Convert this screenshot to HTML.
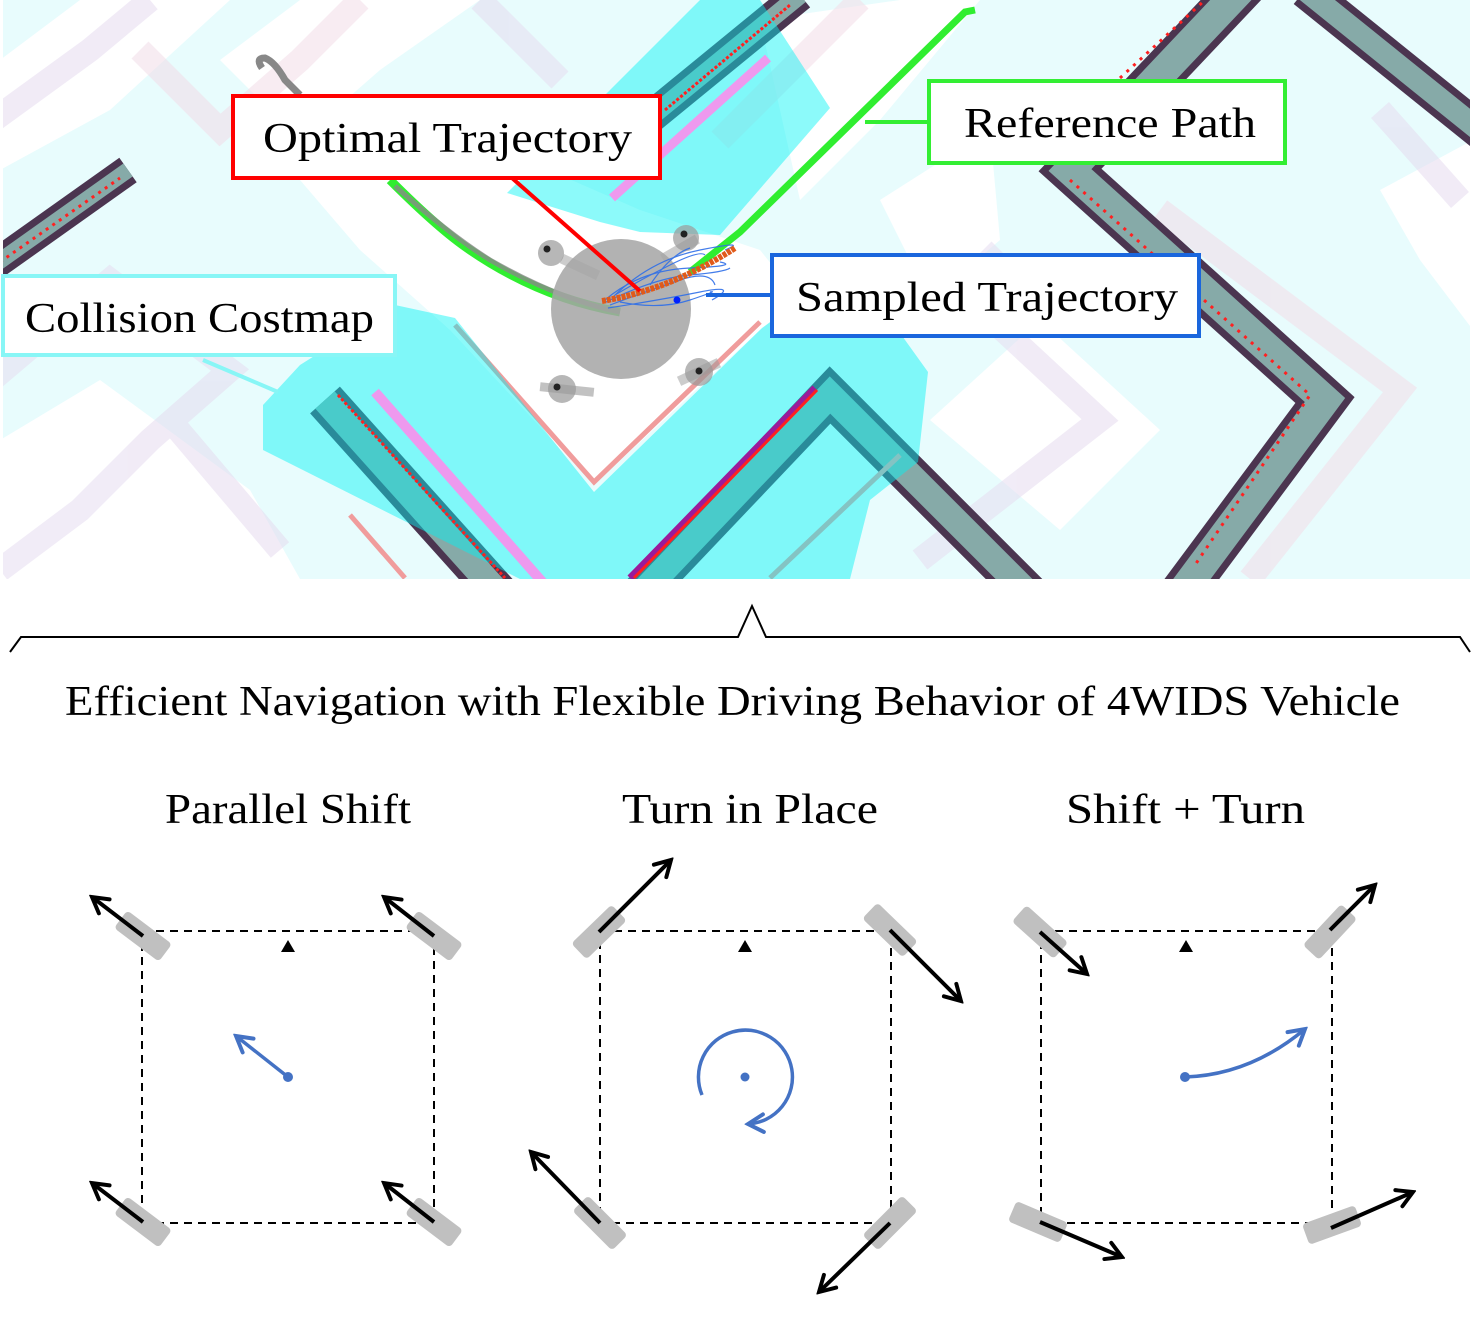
<!DOCTYPE html>
<html><head><meta charset="utf-8"><style>
html,body{margin:0;padding:0;background:#fff;}
svg{display:block;}
text{font-family:"Liberation Serif","DejaVu Serif",serif;fill:#000;}
</style></head><body>
<svg width="1473" height="1328" viewBox="0 0 1473 1328" xmlns="http://www.w3.org/2000/svg">
<defs>
<marker id="ak" viewBox="0 0 20 20" refX="17" refY="10" markerWidth="22" markerHeight="22" markerUnits="userSpaceOnUse" orient="auto"><path d="M3,2 L17,10 L3,18" fill="none" stroke="#000" stroke-width="3.6" stroke-linecap="round" stroke-linejoin="miter"/></marker>
<marker id="ab" viewBox="0 0 20 20" refX="17" refY="10" markerWidth="22" markerHeight="22" markerUnits="userSpaceOnUse" orient="auto"><path d="M3,2 L17,10 L3,18" fill="none" stroke="#4472c4" stroke-width="3.6" stroke-linecap="round"/></marker>
<clipPath id="mapclip"><rect x="3" y="0" width="1467" height="579"/></clipPath>
</defs>

<!-- MAP -->
<g clip-path="url(#mapclip)">
<rect x="0" y="0" width="1473" height="579" fill="#e8fcfd"/>
<!-- white regions -->
<polygon points="0,440 100,380 250,490 300,579 0,579" fill="#fff"/>
<polygon points="40,540 0,500 0,579 60,579" fill="#fff"/>
<polygon points="320,110 480,140 640,210 760,250 800,300 760,330 594,485 450,330 360,250 300,180" fill="#fff"/>
<polygon points="0,60 80,0 230,0 110,110 0,170" fill="#fff"/>
<polygon points="220,60 300,0 480,0 380,70 300,140" fill="#fff"/>
<polygon points="930,420 1040,320 1160,430 1060,530" fill="#fff"/>
<polygon points="1380,190 1473,140 1473,330 1420,260" fill="#fff"/>
<polygon points="760,20 900,0 980,0 880,120 800,200" fill="#fff"/>
<polygon points="880,200 990,130 1000,240 930,300" fill="#fff"/>
<!-- pastel bands -->
<g fill="none" stroke-width="24" stroke-linejoin="miter" opacity="0.55">
<polyline points="-20,390 110,280 230,370 150,440 80,510 0,570" stroke="#e6dcf0"/>
<polyline points="-20,130 90,50 150,0" stroke="#e6dcf0"/>
<polyline points="140,50 220,130 300,60 360,0" stroke="#f2dde8"/>
<polyline points="170,420 280,550" stroke="#e6dcf0"/>
<polyline points="480,0 560,80" stroke="#e6dcf0"/>
<polyline points="920,560 1100,420 960,290 1000,250" stroke="#e6dcf0"/>
<polyline points="1160,210 1400,390 1250,579" stroke="#f2dde8"/>
<polyline points="1380,110 1460,200" stroke="#e6dcf0"/>
<polyline points="860,0 720,140" stroke="#f2dde8"/>
</g>
<!-- walls (dark) -->
<g fill="none" stroke-linejoin="miter">
<polyline points="-10,268 128,170" stroke="#4b3550" stroke-width="30"/>
<polyline points="-10,268 128,170" stroke="#86aaa8" stroke-width="16"/>

<polyline points="640,126 800,-5" stroke="#4b3550" stroke-width="32"/>
<polyline points="640,126 800,-5" stroke="#86aaa8" stroke-width="18"/>

<polyline points="1245,-15 1070,170 1325,400 1180,595" stroke="#4b3550" stroke-width="44"/>
<polyline points="1245,-15 1070,170 1325,400 1180,595" stroke="#86aaa8" stroke-width="30"/>

<polyline points="1305,-10 1485,135" stroke="#4b3550" stroke-width="36"/>
<polyline points="1305,-10 1485,135" stroke="#86aaa8" stroke-width="22"/>

<polyline points="325,400 500,595" stroke="#4b3550" stroke-width="40"/>
<polyline points="325,400 500,595" stroke="#86aaa8" stroke-width="26"/>

<polyline points="640,595 830,395 1035,600" stroke="#4b3550" stroke-width="40"/>
<polyline points="640,595 830,395 1035,600" stroke="#86aaa8" stroke-width="26"/>
<polyline points="455,325 594,482 760,322" stroke="#f09c9c" stroke-width="5"/>
<polyline points="770,578 900,455" stroke="#f09c9c" stroke-width="5"/>
<polyline points="350,515 405,578" stroke="#f09c9c" stroke-width="5"/>
</g>
<!-- cyan overlays -->
<g fill="#00f3f3" opacity="0.45">
<polygon points="507,193 610,90 700,0 760,0 830,108 720,235 640,232 600,222"/>
<polygon points="263,405 300,365 395,305 455,318 594,492 762,328 800,300 880,305 928,372 918,462 870,500 850,579 520,579 263,450"/>
</g>
<g fill="none">
<polyline points="375,392 545,585" stroke="#ee99ee" stroke-width="10"/>
<polyline points="612,198 768,58" stroke="#ee99ee" stroke-width="9"/>
<polyline points="630,578 815,388" stroke="#9b1a9b" stroke-width="7"/>
<polyline points="634,578 817,390" stroke="#ff2020" stroke-width="3"/>
<polyline points="338,395 505,578" stroke="#ff2020" stroke-width="3" stroke-dasharray="3 2"/>
<polyline points="665,110 790,5" stroke="#ff2020" stroke-width="3" stroke-dasharray="3 2"/>
<polyline points="0,262 120,178" stroke="#ff2020" stroke-width="3" stroke-dasharray="3 5"/>
<polyline points="1070,180 1310,395 1195,565" stroke="#ff2020" stroke-width="3" stroke-dasharray="3 6"/>
<polyline points="1120,78 1205,0" stroke="#ff2020" stroke-width="3" stroke-dasharray="3 6"/>
</g>
<!-- people -->
<g>
<rect x="560" y="262" width="40" height="10" fill="#999" opacity="0.5" transform="rotate(25 580 267)"/>
<circle cx="551" cy="253" r="13" fill="#999" opacity="0.7"/><circle cx="547" cy="249" r="3.5" fill="#222"/>
<rect x="660" y="244" width="40" height="10" fill="#999" opacity="0.5" transform="rotate(-30 680 249)"/>
<circle cx="686" cy="238" r="13" fill="#999" opacity="0.7"/><circle cx="684" cy="234" r="3.5" fill="#222"/>
<rect x="540" y="385" width="54" height="9" fill="#999" opacity="0.6" transform="rotate(6 567 389)"/>
<circle cx="562" cy="389" r="14" fill="#999" opacity="0.7"/><circle cx="557" cy="387" r="3.5" fill="#222"/>
<rect x="677" y="367" width="44" height="10" fill="#999" opacity="0.5" transform="rotate(-25 699 372)"/>
<circle cx="699" cy="372" r="14" fill="#999" opacity="0.7"/><circle cx="699" cy="371" r="3.5" fill="#222"/>
</g>
<!-- paths -->
<path d="M262,68 Q255,58 265,58 Q275,62 285,80 L300,95" fill="none" stroke="#888" stroke-width="7"/>
<path d="M390,180 Q440,230 470,250 Q540,298 620,312" fill="none" stroke="#30ee30" stroke-width="9"/>
<path d="M975,10 L965,12 L740,232 L690,272" fill="none" stroke="#30ee30" stroke-width="7"/>
<path d="M395,186 Q450,235 490,260 Q560,300 620,312" fill="none" stroke="#888" stroke-width="5" opacity="0.8"/>
<circle cx="621" cy="309" r="70" fill="#a4a4a4" opacity="0.85"/>
<g fill="none" stroke="#2f6fe8" stroke-width="1.2" opacity="0.9">
<path d="M605,300 Q640,270 690,268 T720,262"/>
<path d="M610,305 Q650,290 680,280 T715,285"/>
<path d="M612,298 Q650,260 700,250 T725,250"/>
<path d="M608,308 Q660,300 700,292 T712,300"/>
<path d="M615,295 Q640,280 670,265 T705,255"/>
<path d="M620,302 Q660,310 690,300 T710,292"/>
<path d="M606,302 Q655,278 690,275 T730,268"/>
<path d="M650,285 Q670,255 690,248"/>
</g>
<path d="M602,301 Q670,290 735,248" fill="none" stroke="#e05a1a" stroke-width="6" stroke-dasharray="4 1"/>
<circle cx="677" cy="300" r="3.5" fill="#0020ff"/>
</g>

<!-- callout lines -->
<line x1="512" y1="178" x2="640" y2="291" stroke="#ff0000" stroke-width="4"/>
<line x1="865" y1="122" x2="930" y2="122" stroke="#33ee33" stroke-width="4"/>
<line x1="706" y1="295" x2="773" y2="295" stroke="#1a66dd" stroke-width="4"/>
<line x1="203" y1="360" x2="278" y2="392" stroke="#88f6f6" stroke-width="4"/>
<!-- label boxes -->
<rect x="233" y="96" width="427" height="82" fill="#fff" stroke="#ff0000" stroke-width="4"/>
<text x="263" y="152" font-size="42" textLength="369" lengthAdjust="spacingAndGlyphs">Optimal Trajectory</text>
<rect x="929" y="81" width="356" height="82" fill="#fff" stroke="#33ee33" stroke-width="4"/>
<text x="964" y="137" font-size="42" textLength="292" lengthAdjust="spacingAndGlyphs">Reference Path</text>
<rect x="772" y="255" width="427" height="81" fill="#fff" stroke="#1a66dd" stroke-width="4"/>
<text x="796" y="311" font-size="42" textLength="382" lengthAdjust="spacingAndGlyphs">Sampled Trajectory</text>
<rect x="3" y="276" width="392" height="79" fill="#fff" stroke="#88f6f6" stroke-width="4"/>
<text x="25" y="332" font-size="42" textLength="349" lengthAdjust="spacingAndGlyphs">Collision Costmap</text>

<!-- brace -->
<polyline points="10,652 21,637 738,637 752,606 766,637 1460,637 1470,652" fill="none" stroke="#000" stroke-width="2"/>
<text x="65" y="715" font-size="42" textLength="1335" lengthAdjust="spacingAndGlyphs">Efficient Navigation with Flexible Driving Behavior of 4WIDS Vehicle</text>
<text x="165" y="823" font-size="42" textLength="246" lengthAdjust="spacingAndGlyphs">Parallel Shift</text>
<text x="622" y="823" font-size="42" textLength="256" lengthAdjust="spacingAndGlyphs">Turn in Place</text>
<text x="1066" y="823" font-size="42" textLength="239" lengthAdjust="spacingAndGlyphs">Shift + Turn</text>

<!-- panels boxes -->
<g fill="none" stroke="#000" stroke-width="2" stroke-dasharray="8 6">
<rect x="142" y="931" width="292" height="292"/>
<rect x="600" y="931" width="291" height="292"/>
<rect x="1041" y="931" width="291" height="292"/>
</g>
<g fill="#000">
<polygon points="288,940 281,952 295,952"/>
<polygon points="745,940 738,952 752,952"/>
<polygon points="1186,940 1179,952 1193,952"/>
</g>

<!-- wheels -->
<g fill="#c0c0c0">
<rect x="-28" y="-11" width="56" height="22" rx="4" transform="translate(143,936) rotate(37)"/>
<rect x="-28" y="-11" width="56" height="22" rx="4" transform="translate(434,936) rotate(37)"/>
<rect x="-28" y="-11" width="56" height="22" rx="4" transform="translate(143,1222) rotate(37)"/>
<rect x="-28" y="-11" width="56" height="22" rx="4" transform="translate(434,1222) rotate(37)"/>

<rect x="-28" y="-11" width="56" height="22" rx="4" transform="translate(599,932) rotate(-44)"/>
<rect x="-28" y="-11" width="56" height="22" rx="4" transform="translate(890,930) rotate(44)"/>
<rect x="-28" y="-11" width="56" height="22" rx="4" transform="translate(600,1223) rotate(45)"/>
<rect x="-28" y="-11" width="56" height="22" rx="4" transform="translate(890,1223) rotate(-45)"/>

<rect x="-28" y="-11" width="56" height="22" rx="4" transform="translate(1040,932) rotate(42)"/>
<rect x="-28" y="-11" width="56" height="22" rx="4" transform="translate(1330,932) rotate(-47)"/>
<rect x="-28" y="-11" width="56" height="22" rx="4" transform="translate(1038,1222) rotate(23)"/>
<rect x="-28" y="-11" width="56" height="22" rx="4" transform="translate(1332,1225) rotate(-20)"/>
</g>

<!-- arrows -->
<g stroke="#000" stroke-width="4" fill="none" marker-end="url(#ak)">
<line x1="143" y1="936" x2="92" y2="897"/>
<line x1="434" y1="936" x2="384" y2="897"/>
<line x1="143" y1="1222" x2="92" y2="1183"/>
<line x1="434" y1="1222" x2="384" y2="1183"/>

<line x1="599" y1="932" x2="671" y2="860"/>
<line x1="890" y1="930" x2="961" y2="1001"/>
<line x1="600" y1="1223" x2="531" y2="1152"/>
<line x1="890" y1="1223" x2="819" y2="1292"/>

<line x1="1040" y1="932" x2="1087" y2="974"/>
<line x1="1330" y1="930" x2="1375" y2="885"/>
<line x1="1040" y1="1222" x2="1122" y2="1257"/>
<line x1="1331" y1="1228" x2="1413" y2="1192"/>
</g>

<!-- blue center motions -->
<line x1="288" y1="1077" x2="236" y2="1036" stroke="#4472c4" stroke-width="3.5" marker-end="url(#ab)"/>
<circle cx="288" cy="1077" r="5" fill="#4472c4"/>
<path d="M702,1095 A47,47 0 1 1 748,1124" fill="none" stroke="#4472c4" stroke-width="3.5" marker-end="url(#ab)"/>
<circle cx="745" cy="1077" r="4.5" fill="#4472c4"/>
<path d="M1185,1077 Q1250,1075 1305,1029" fill="none" stroke="#4472c4" stroke-width="3.5" marker-end="url(#ab)"/>
<circle cx="1185" cy="1077" r="5" fill="#4472c4"/>
</svg>
</body></html>
